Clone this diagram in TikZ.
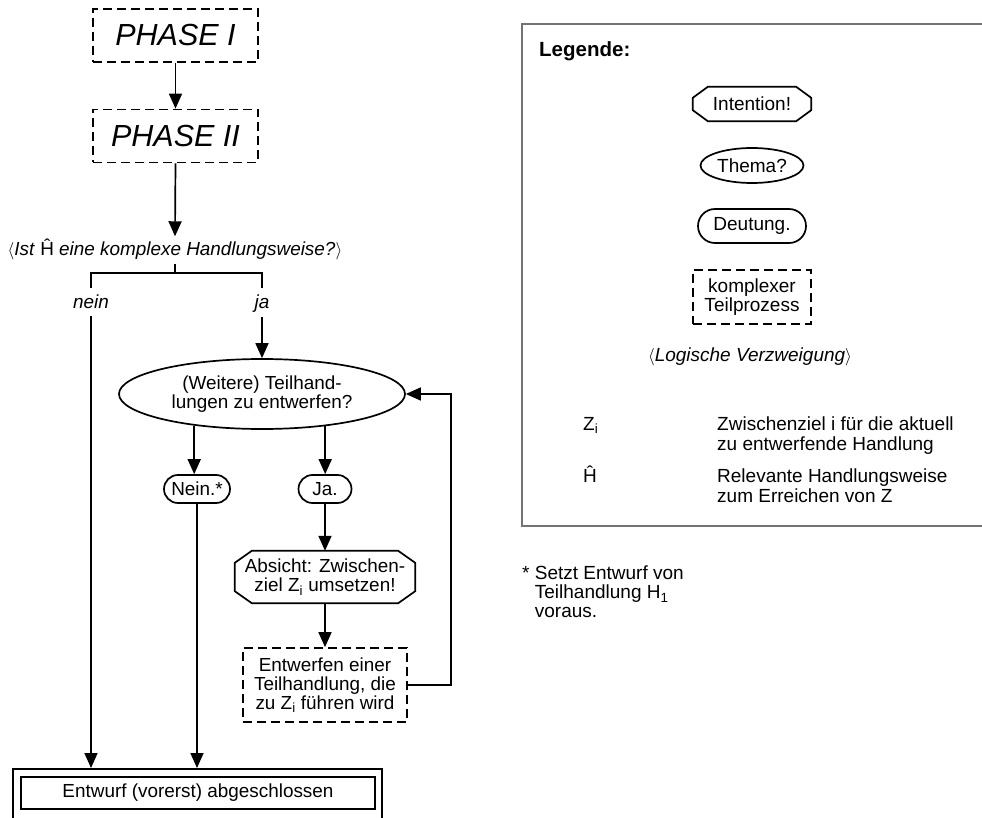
\documentclass[tikz,border=0pt]{standalone}
\usepackage{fontspec}
\setmainfont{Liberation Sans}
\usetikzlibrary{arrows.meta,shapes.geometric,shapes.misc,calc}

% octagonal frame around a (rectangular, undrawn) node: #2 = chamfer in x, #3 = chamfer in y
\newcommand{\octframe}[3]{%
  \draw[thickline] ($(#1.north west)+(#2,0)$) -- ($(#1.north east)+(-#2,0)$)
    -- ($(#1.north east)+(0,#3)$) -- ($(#1.south east)+(0,-#3)$)
    -- ($(#1.south east)+(-#2,0)$) -- ($(#1.south west)+(#2,0)$)
    -- ($(#1.south west)+(0,-#3)$) -- ($(#1.north west)+(0,#3)$) -- cycle;}

\begin{document}
\begin{tikzpicture}[x=1pt,y=-1pt,
  every node/.style={inner sep=0pt, align=center, font=\fontsize{18.9}{19}\selectfont},
  thickline/.style={line width=1.7pt},
  arr/.style={thickline, -{Triangle[length=15pt,width=13pt]}},
  dashbox/.style={draw, line width=1.7pt, dash pattern=on 9pt off 5pt},
  phasebox/.style={dashbox, minimum width=165pt, minimum height=53pt,
    font=\fontsize{30.5}{32}\selectfont\itshape},
  stadium/.style={draw, thickline, rounded rectangle},
  oval/.style={draw, thickline, ellipse},
  lgd/.style={font=\fontsize{19}{20}\selectfont},
  branch/.style={font=\fontsize{18.9}{19}\selectfont\itshape, anchor=base},
]
\useasboundingbox (0,0) rectangle (982,818);
\clip (0,0) rectangle (982,818);

% ---------------- flow chart ----------------
\node[phasebox] (p1) at (175.5,35.5) {PHASE I};
\node[phasebox] (p2) at (175.5,136) {PHASE II};
\draw[arr] (p1.south) -- (p2.north);

\node[anchor=base, inner ysep=3pt] (q) at (175,256)
  {$\langle$\textit{Ist} Ĥ \textit{eine komplexe Handlungsweise?}$\rangle$};
\draw[arr] (p2.south) -- (q.north);

\coordinate (fork) at (175,273);
\node[branch] (nein) at (91,308) {nein};
\node[branch] (ja) at (262,308) {ja};
\draw[thickline] (q.south) -- (fork);
\draw[thickline] ([yshift=6pt]nein.north) -- (nein.north |- fork) -- (ja.north |- fork)
  -- ([yshift=6pt]ja.north);

\node[oval, minimum width=286pt, minimum height=70pt] (ell) at (262,394)
  {(Weitere) Teilhand-\\lungen zu entwerfen?};
\draw[arr] ([yshift=-5pt]ja.south) -- (ell.north);

\node[stadium, minimum width=66pt, minimum height=28pt] (nn) at (197,489) {Nein.*};
\node[stadium, minimum width=53pt, minimum height=28pt] (jj) at (325,489) {Ja.};
\draw[arr] (ell.205.6) -- (ell.205.6 |- nn.north);
\draw[arr] (ell.333.5) -- (ell.333.5 |- jj.north);

\node[minimum width=180pt, minimum height=52pt] (ab) at (325,577)
  {Absicht: Zwischen-\\ziel Z\textsubscript{i} umsetzen!};
\octframe{ab}{17}{12}
\draw[arr] (jj.south) -- (ab.north);

\node[dashbox, minimum width=164pt, minimum height=74pt] (en) at (325,685)
  {Entwerfen einer\\Teilhandlung, die\\zu Z\textsubscript{i} führen wird};
\draw[arr] (ab.south) -- (en.north);
\draw[arr] (en.east) -- ++(43,0) |- (ell.east);

\node[draw, thickline, minimum width=369pt, minimum height=60pt, anchor=north] (frame)
  at (197.5,768) {};
\node[draw, thickline, minimum width=354pt, minimum height=32pt] (done) at (198,793)
  {Entwurf (vorerst) abgeschlossen};
\draw[arr] ([yshift=-8pt]nein.south) -- (nein.south |- frame.north);
\draw[arr] (nn.south) -- (nn.south |- frame.north);

% ---------------- legend ----------------
\node[draw=black!55, line width=1.6pt, minimum width=480pt, minimum height=502pt,
  anchor=north west] (legend) at (521,23) {};
\node[anchor=base west, font=\fontsize{20.5}{22}\selectfont\bfseries] (lt) at (539,57) {Legende:};

\node[lgd, minimum width=118pt, minimum height=34pt] (l1) at (752,104) {Intention!};
\octframe{l1}{15}{11}
\node[lgd, oval, minimum width=103pt, minimum height=35pt] (l2) at (752,165.5) {Thema?};
\node[lgd, stadium, minimum width=108pt, minimum height=34pt] (l3) at (752,226) {Deutung.};
\node[dashbox, minimum width=118pt, minimum height=54pt, font=\fontsize{19}{19}\selectfont]
  (l4) at (752,297) {komplexer\\Teilprozess};
\node[lgd] (l5) at (750,357) {$\langle$\textit{Logische Verzweigung}$\rangle$};

\node[lgd, anchor=base west] (zsym) at (583,430) {Z\textsubscript{i}};
\node[lgd, anchor=north west, align=left] (zdesc) at (717,416.5)
  {Zwischenziel i für die aktuell\\zu entwerfende Handlung};
\node[lgd, anchor=base west] (hsym) at (583,482) {Ĥ};
\node[lgd, anchor=north west, align=left] (hdesc) at (717,468.5)
  {Relevante Handlungsweise\\zum Erreichen von Z};

% footnote
\node[anchor=north west, align=left, font=\fontsize{19}{19}\selectfont] (fn) at (522,566)
  {* Setzt Entwurf von\\\hphantom{* }Teilhandlung H\textsubscript{1}\\\hphantom{* }voraus.};
\end{tikzpicture}
\end{document}
